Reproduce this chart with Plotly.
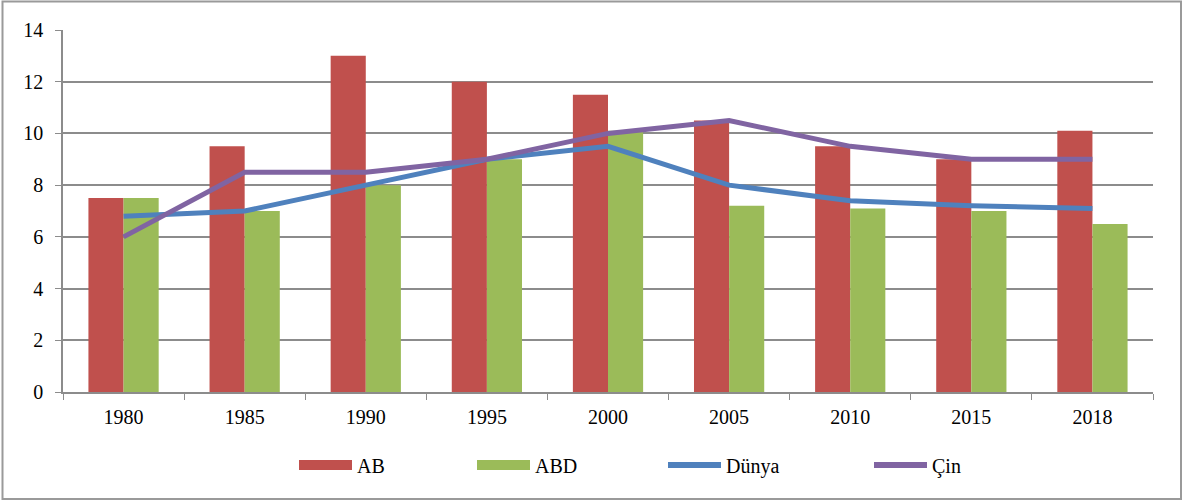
import plotly.graph_objects as go

years = ["1980", "1985", "1990", "1995", "2000", "2005", "2010", "2015", "2018"]
ab = [7.5, 9.5, 13, 12, 11.5, 10.5, 9.5, 9, 10.1]
abd = [7.5, 7, 8, 9, 10.1, 7.2, 7.1, 7, 6.5]
dunya = [6.8, 7, 8, 9, 9.5, 8, 7.4, 7.2, 7.1]
cin = [6, 8.5, 8.5, 9, 10, 10.5, 9.5, 9, 9]

C_AB, C_ABD, C_DUN, C_CIN = "#C0504D", "#9BBB59", "#4F81BD", "#8064A2"

L, R, T, B = 63, 30, 30, 109
W, H = 1183, 501
pw, ph = W - L - R, H - T - B

def px_x(p):
    return (p - L) / pw

def px_y(p):
    return (H - B - p) / ph

fig = go.Figure()
fig.add_trace(go.Bar(x=years, y=ab, name="AB", showlegend=False,
                     marker=dict(color=C_AB, line=dict(width=0))))
fig.add_trace(go.Bar(x=years, y=abd, name="ABD", showlegend=False,
                     marker=dict(color=C_ABD, line=dict(width=0))))
fig.add_trace(go.Scatter(x=years, y=dunya, name="Dünya", mode="lines", showlegend=False,
                         line=dict(color=C_DUN, width=5)))
fig.add_trace(go.Scatter(x=years, y=cin, name="Çin", mode="lines", showlegend=False,
                         line=dict(color=C_CIN, width=5)))

# legend-only entries, each in its own legend for exact placement
leg_names = ["AB", "ABD", "Dünya", "Çin"]
leg_colors = [C_AB, C_ABD, C_DUN, C_CIN]
leg_widths = [10, 10, 6, 6]
leg_starts = [302, 480, 671, 877]
leg_ids = ["legend", "legend2", "legend3", "legend4"]
for name, col, lw, lid in zip(leg_names, leg_colors, leg_widths, leg_ids):
    fig.add_trace(go.Scatter(x=[None], y=[None], mode="lines", name=name, legend=lid,
                             line=dict(color=col, width=lw), showlegend=True))

fig.add_shape(type="rect", xref="paper", yref="paper",
              x0=px_x(2.5), x1=px_x(1181), y0=px_y(499), y1=px_y(1.5),
              line=dict(color="#9a9a9a", width=2), layer="below")

legend_common = dict(orientation="h", yanchor="middle", y=px_y(465), xanchor="left",
                     itemwidth=53, bgcolor="rgba(0,0,0,0)",
                     font=dict(family="Liberation Serif", size=20, color="black"))
legends = {}
for lid, start in zip(leg_ids, leg_starts):
    legends[lid] = dict(legend_common, x=px_x(start - 8))

fig.update_layout(
    width=W, height=H,
    margin=dict(l=L, r=R, t=T, b=B),
    paper_bgcolor="white", plot_bgcolor="white",
    barmode="group", bargap=0.42, bargroupgap=0,
    font=dict(family="Liberation Serif", size=20, color="black"),
    showlegend=True,
    xaxis=dict(type="category", showgrid=False, showline=True, linecolor="#8c8c8c", linewidth=1.5,
               ticks="outside", tickson="boundaries", ticklen=6, tickcolor="#8c8c8c",
               ticklabelstandoff=6,
               tickfont=dict(family="Liberation Serif", size=20)),
    yaxis=dict(range=[0, 14], dtick=2, showgrid=True, gridcolor="#8c8c8c", gridwidth=1.5,
               showline=True, linecolor="#8c8c8c", linewidth=1.5,
               ticks="outside", ticklen=6, tickcolor="#8c8c8c", zeroline=False,
               ticklabelstandoff=8,
               tickfont=dict(family="Liberation Serif", size=20)),
    **legends,
)

fig.write_html("out.html", config={"displayModeBar": False},
               post_script="document.body.style.margin='0';")
